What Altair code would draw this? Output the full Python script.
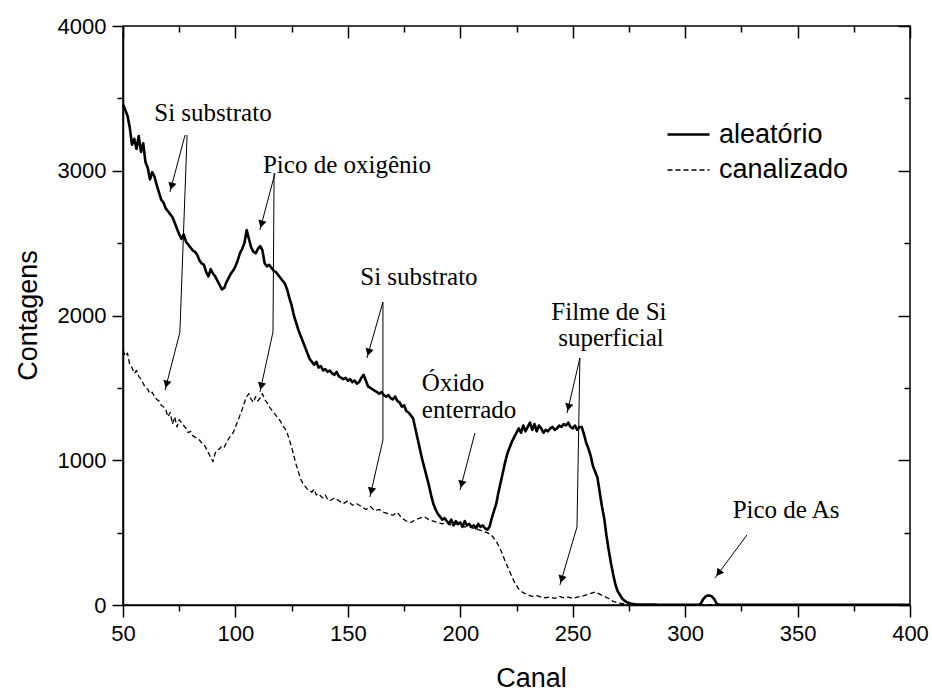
import math
import altair as alt
import pandas as pd

W, H = 787, 579
X_DOMAIN = [50, 400]
Y_DOMAIN = [0, 4000]

# ---------------- data ----------------
series_names = ["aleatório", "canalizado"]

canal_aleatorio = list(range(50, 277)) + [278, 280, 290, 300, 306, 307, 308, 309, 310,
                                          311, 312, 313, 314, 315, 317, 330, 350, 380, 400]
cont_aleatorio = [
    3460, 3420, 3380, 3300, 3180, 3220, 3150, 3240, 3130, 3190,
    3060, 3020, 2940, 2990, 2960, 2900, 2850, 2800, 2780, 2740,
    2720, 2700, 2680, 2640, 2600, 2560, 2530, 2560, 2510, 2490,
    2470, 2450, 2440, 2420, 2380, 2360, 2350, 2300, 2270, 2320,
    2290, 2270, 2240, 2210, 2180, 2190, 2230, 2260, 2290, 2310,
    2340, 2380, 2430, 2460, 2500, 2590, 2530, 2470, 2440, 2430,
    2460, 2480, 2450, 2360, 2340, 2350, 2330, 2310, 2300, 2280,
    2260, 2240, 2220, 2180, 2120, 2070, 2000, 1950, 1900, 1860,
    1820, 1780, 1740, 1700, 1680, 1660, 1680, 1640, 1650, 1620,
    1630, 1610, 1620, 1600, 1590, 1610, 1580, 1570, 1560, 1570,
    1550, 1560, 1540, 1550, 1530, 1540, 1570, 1590, 1550, 1510,
    1500, 1490, 1480, 1470, 1460, 1470, 1450, 1440, 1450, 1430,
    1420, 1440, 1410, 1400, 1370, 1380, 1340, 1330, 1310, 1290,
    1220, 1150, 1080, 1010, 950, 890, 830, 760, 700, 660,
    630, 610, 590, 600, 580, 560, 590, 550, 580, 560,
    570, 540, 580, 550, 560, 540, 550, 530, 560, 540,
    550, 530, 520, 540, 600, 650, 700, 780, 850, 920,
    990, 1050, 1090, 1130, 1160, 1190, 1220, 1190, 1240, 1200,
    1230, 1260, 1210, 1250, 1200, 1240, 1220, 1190, 1210, 1200,
    1220, 1230, 1210, 1220, 1240, 1230, 1250, 1240, 1260, 1230,
    1220, 1240, 1210, 1230, 1230, 1180, 1120, 1080, 1030, 960,
    920, 880, 780, 680, 600, 480, 380, 290, 210, 140,
    95, 70, 45, 30, 20, 14, 8,
    4, 3, 2, 2, 2, 10, 40, 58, 65, 65, 58, 40, 10, 2, 2, 2, 2, 2, 2,
]

canal_canalizado = [
    50, 51, 52, 53, 54, 55, 56, 57, 58, 59, 60, 61, 62, 63, 64, 65, 66, 67, 68, 69,
    70, 71, 72, 73, 74, 75, 76, 77, 78, 79, 80, 81, 82, 83, 84, 85, 86, 87, 88, 89,
    90, 91, 92, 93, 94, 95, 96, 97, 98, 99, 100, 101, 102, 103, 104, 105, 106, 107, 108, 109,
    110, 111, 112, 113, 114, 115, 116, 117, 118, 119, 120, 121, 122, 123, 124, 125, 126, 127, 128, 129,
    130, 131, 132, 133, 134, 135, 136, 137, 138, 139, 140, 141, 142, 144, 146, 148, 150, 152, 154, 156,
    158, 160, 162, 164, 166, 168, 170, 172, 174, 176, 178, 180, 182, 184, 186, 188, 190, 192, 194, 196,
    198, 200, 202, 204, 206, 208, 210, 212, 214, 216, 218, 220, 222, 224, 226, 228, 230, 232, 234, 236,
    238, 240, 242, 244, 246, 248, 250, 252, 254, 256, 258, 260, 262, 264, 266, 268, 270, 272, 275, 280,
    300, 350, 400,
]
cont_canalizado = [
    1760, 1720, 1740, 1660, 1640, 1600, 1620, 1580, 1560, 1530, 1500, 1490, 1460, 1470, 1440, 1420, 1410, 1380, 1370, 1350,
    1300, 1330, 1250, 1300, 1230, 1280, 1260, 1240, 1220, 1190, 1200, 1170, 1160, 1150, 1140, 1120, 1110, 1080, 1050, 1020,
    990, 1050, 1070, 1080, 1100, 1090, 1120, 1150, 1170, 1190, 1230, 1270, 1310, 1350, 1400, 1440, 1460, 1420, 1400, 1440,
    1410, 1430, 1460, 1420, 1400, 1370, 1350, 1330, 1310, 1290, 1270, 1240, 1220, 1190, 1140, 1090, 1030, 970, 920, 870,
    840, 820, 800, 790, 780, 800, 760, 770, 750, 740, 760, 730, 720, 740, 720, 700, 720, 690, 700, 680,
    660, 680, 650, 660, 640, 630, 620, 640, 600, 580, 570, 590, 600, 610, 590, 580, 570, 560, 570, 550,
    560, 550, 540, 540, 530, 520, 510, 500, 480, 440, 380, 300, 230, 160, 110, 85, 70, 60, 65, 55,
    50, 55, 45, 60, 50, 55, 45, 55, 60, 70, 80, 90, 75, 60, 45, 25, 15, 10, 5, 2,
    2, 2, 2,
]

x_major = [50, 100, 150, 200, 250, 300, 350, 400]
x_minor = [75, 125, 175, 225, 275, 325, 375]
y_major = [0, 1000, 2000, 3000, 4000]
y_minor = [500, 1500, 2500, 3500]

# annotations (data coordinates)
ann_labels = ["Si substrato", "Pico de oxigênio", "Si substrato", "Óxido", "enterrado",
              "Filme de Si", "superficial", "Pico de As"]
ann_x = [90.0, 149.6, 181.6, 196.8, 203.9, 266.1, 267.0, 344.9]
ann_y = [3399, 3040, 2266, 1534, 1347, 2024, 1845, 656]

arrow_x1 = [77.6, 78.5, 75.3, 117.6, 117.2, 116.7, 165.6, 165.6, 165.6, 206.5, 253.2, 253.2, 251.9, 327.5]
arrow_y1 = [3247, 3247, 1884, 2984, 2984, 1886, 2093, 2093, 1140, 1188, 1706, 1706, 539, 484]
arrow_x2 = [70.9, 75.3, 68.7, 110.9, 116.7, 110.9, 158.5, 165.6, 159.8, 199.9, 247.5, 251.9, 244.3, 313.3]
arrow_y2 = [2853, 1884, 1485, 2591, 1886, 1471, 1706, 1140, 746, 794, 1326, 539, 138, 187]
arrow_head = [True, False, True, True, False, True, True, False, True, True, True, False, True, True]

# ---------------- tables ----------------
df_lines = pd.concat([
    pd.DataFrame({"x": canal_aleatorio, "y": cont_aleatorio, "series": series_names[0]}),
    pd.DataFrame({"x": canal_canalizado, "y": cont_canalizado, "series": series_names[1]}),
])

df_arrows = pd.DataFrame({"x": arrow_x1, "y": arrow_y1, "x2": arrow_x2, "y2": arrow_y2})

sx = W / (X_DOMAIN[1] - X_DOMAIN[0])
sy = H / (Y_DOMAIN[1] - Y_DOMAIN[0])
head_rows = []
for x1, y1, x2, y2, h in zip(arrow_x1, arrow_y1, arrow_x2, arrow_y2, arrow_head):
    if not h:
        continue
    dxp = (x2 - x1) * sx
    dyp = -(y2 - y1) * sy
    n = math.hypot(dxp, dyp)
    ux, uy = dxp / n, dyp / n
    ang = math.degrees(math.atan2(ux, -uy)) % 360
    cx = x2 - 6 * ux / sx
    cy = y2 + 6 * uy / sy
    head_rows.append({"x": cx, "y": cy, "angle": ang})
df_heads = pd.DataFrame(head_rows)

df_text = pd.DataFrame({"x": ann_x, "y": ann_y, "label": ann_labels})

# ---------------- axes ----------------
SANS = "Liberation Sans"
SERIF = "Liberation Serif"


def xs(axis):
    return alt.X("x:Q", scale=alt.Scale(domain=X_DOMAIN, nice=False, zero=False), axis=axis)


def ys(axis):
    return alt.Y("y:Q", scale=alt.Scale(domain=Y_DOMAIN, nice=False, zero=False), axis=axis)


common_tick = dict(tickColor="black", tickWidth=1.5, grid=False)

ax_bottom_major = alt.Axis(orient="bottom", values=x_major, tickSize=12, format="d",
                           labelFont=SANS, labelFontSize=22,
                           labelColor="black", labelPadding=6, labelFlush=False,
                           labelOverlap=False, domainColor="black", domainWidth=1.5,
                           title="Canal", titleFont=SANS, titleFontSize=27,
                           titleFontWeight="normal", titleColor="black",
                           titleX=408, titleY=73, titleAlign="center",
                           titleBaseline="middle", **common_tick)
ax_left_major = alt.Axis(orient="left", values=y_major, tickSize=11, format="d",
                         labelFont=SANS, labelFontSize=22,
                         labelColor="black", labelPadding=6, labelFlush=False,
                         labelOverlap=False, domainColor="black", domainWidth=1.5,
                         title="Contagens", titleFont=SANS, titleFontSize=27,
                         titleFontWeight="normal", titleColor="black",
                         titleX=-95, titleY=289, titleAngle=270, titleAlign="center",
                         titleBaseline="middle", **common_tick)
ax_bottom_minor = alt.Axis(orient="bottom", values=x_minor, tickSize=6, labels=False,
                           domain=False, title=None, **common_tick)
ax_left_minor = alt.Axis(orient="left", values=y_minor, tickSize=6, labels=False,
                         domain=False, title=None, **common_tick)
# inward ticks on top and right: negative tick length passed as an expression
ax_top_major = alt.Axis(orient="top", values=x_major, tickSize=alt.ExprRef(expr="-12"),
                        labels=False, domain=False, title=None, **common_tick)
ax_right_major = alt.Axis(orient="right", values=y_major, tickSize=alt.ExprRef(expr="-12"),
                          labels=False, domain=False, title=None, **common_tick)
ax_top_minor = alt.Axis(orient="top", values=x_minor, tickSize=alt.ExprRef(expr="-6"),
                        labels=False, domain=False, title=None, **common_tick)
ax_right_minor = alt.Axis(orient="right", values=y_minor, tickSize=alt.ExprRef(expr="-6"),
                          labels=False, domain=False, title=None, **common_tick)

legend_cfg = dict(orient="none", legendX=543, legendY=86, title=None, padding=0,
                  symbolType="stroke", symbolSize=1764, symbolStrokeColor="black",
                  labelFont=SANS, labelFontSize=27, labelColor="black",
                  labelOffset=8, rowPadding=-9)

# ---------------- layers ----------------
lines = alt.Chart(df_lines).mark_line(color="black", strokeCap="butt",
                                      strokeJoin="round").encode(
    x=xs(ax_bottom_major),
    y=ys(ax_left_major),
    strokeDash=alt.StrokeDash("series:N",
                              scale=alt.Scale(domain=series_names, range=[[1, 0], [5, 3]]),
                              legend=alt.Legend(**legend_cfg)),
    strokeWidth=alt.StrokeWidth("series:N",
                                scale=alt.Scale(domain=series_names, range=[2.6, 1.3]),
                                legend=alt.Legend(**legend_cfg)),
)

shafts = alt.Chart(df_arrows).mark_rule(color="black", strokeWidth=1).encode(
    x=xs(ax_bottom_minor), y=ys(ax_left_minor), x2="x2:Q", y2="y2:Q"
)

heads = alt.Chart(df_heads).mark_point(shape="triangle-up", filled=True, color="black",
                                       opacity=1, size=70).encode(
    x=xs(ax_top_major), y=ys(ax_right_major), angle=alt.Angle("angle:Q", scale=None)
)

texts = alt.Chart(df_text).mark_text(font=SERIF, fontSize=25, color="black",
                                     align="center", baseline="middle").encode(
    x=xs(ax_top_minor), y=ys(ax_right_minor), text="label:N"
)

chart = (
    alt.layer(lines, shafts, heads, texts)
    .resolve_axis(x="independent", y="independent")
    .properties(width=W, height=H,
                padding={"left": 123, "top": 26, "right": 22, "bottom": 88},
                autosize=alt.AutoSizeParams(type="none"),
                background="white")
    .configure_view(stroke="black", strokeWidth=1.5)
)

chart.save("out.html", embed_options={"renderer": "svg", "actions": False})
